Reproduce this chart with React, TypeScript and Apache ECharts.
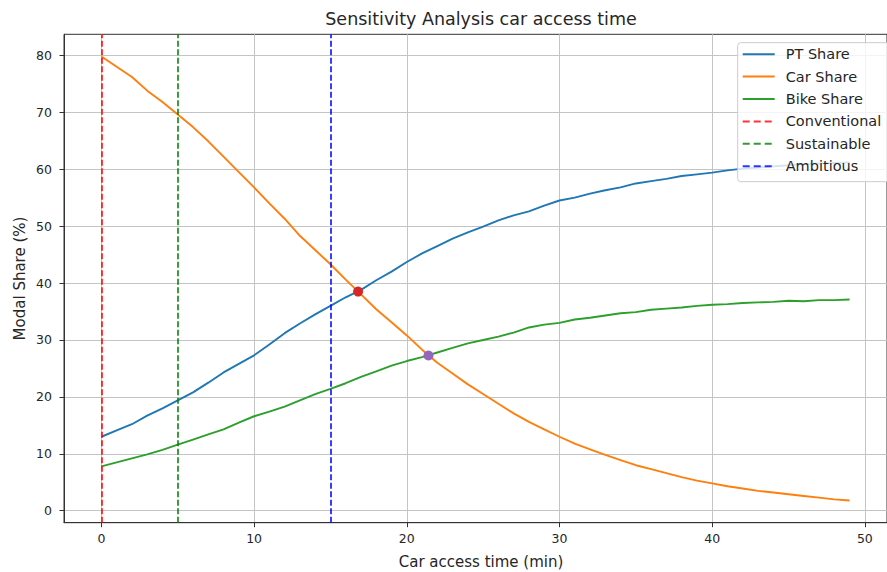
import React, { useEffect, useRef } from "react";
import * as echarts from "echarts";

// ---- data ----
const accessTime = [
  0, 1, 2, 3, 4, 5, 6, 7, 8, 9, 10, 11, 12, 13, 14, 15, 16, 17, 18, 19, 20, 21, 22, 23, 24,
  25, 26, 27, 28, 29, 30, 31, 32, 33, 34, 35, 36, 37, 38, 39, 40, 41, 42, 43, 44, 45, 46, 47, 48, 49,
];
const ptShare = [
  13.0, 14.1, 15.2, 16.7, 18.0, 19.4, 20.8, 22.5, 24.3, 25.8,
  27.3, 29.2, 31.2, 32.9, 34.5, 36.0, 37.5, 38.8, 40.5, 42.0,
  43.7, 45.2, 46.5, 47.8, 48.9, 49.9, 51.0, 51.9, 52.6, 53.6,
  54.5, 55.0, 55.7, 56.3, 56.8, 57.5, 57.9, 58.3, 58.8, 59.1,
  59.4, 59.8, 60.1, 60.3, 60.5, 60.7, 60.9, 61.0, 61.1, 61.2,
];
const carShare = [
  79.8, 78.0, 76.2, 73.8, 71.8, 69.6, 67.4, 64.9, 62.2, 59.5,
  56.8, 54.0, 51.3, 48.3, 45.8, 43.3, 40.6, 38.0, 35.4, 33.1,
  30.8, 28.3, 26.0, 24.1, 22.2, 20.5, 18.8, 17.1, 15.6, 14.3,
  13.0, 11.8, 10.8, 9.8, 8.9, 8.0, 7.3, 6.6, 5.9, 5.3,
  4.8, 4.3, 3.9, 3.5, 3.2, 2.9, 2.6, 2.3, 2.0, 1.8,
];
const bikeShare = [
  7.8, 8.5, 9.2, 9.9, 10.7, 11.6, 12.5, 13.4, 14.3, 15.5,
  16.6, 17.4, 18.3, 19.4, 20.5, 21.4, 22.4, 23.5, 24.5, 25.5,
  26.3, 27.0, 27.8, 28.6, 29.4, 30.0, 30.6, 31.3, 32.2, 32.7,
  33.0, 33.6, 33.9, 34.3, 34.7, 34.9, 35.3, 35.5, 35.7, 36.0,
  36.2, 36.3, 36.5, 36.6, 36.7, 36.9, 36.8, 37.0, 37.0, 37.1,
];
const scenarioNames = ["Conventional", "Sustainable", "Ambitious"];
const scenarioTimes = [0, 5, 15];
const ptCarCross = [16.81, 38.5];
const carBikeCross = [21.42, 27.27];
const xTicks = [0, 10, 20, 30, 40, 50];
const yTicks = [0, 10, 20, 30, 40, 50, 60, 70, 80];

const FONT = "DejaVu Sans";
const scenarioColors = ["rgba(255,0,0,0.8)", "rgba(0,128,0,0.8)", "rgba(0,0,255,0.8)"];

export default function App() {
  const ref = useRef<HTMLDivElement>(null);
  useEffect(() => {
    if (!ref.current) return;
    const chart = echarts.init(ref.current, undefined, { renderer: "svg" });
    const pair = (ys: number[]) => accessTime.map((t, i) => [t, ys[i]]);
    const curve = (name: string, ys: number[], color: string) => ({
      name,
      type: "line",
      data: pair(ys),
      symbol: "none",
      showSymbol: false,
      color,
      lineStyle: { color, width: 1.9 },
      z: 2,
    });
    const scen = scenarioNames.map((name, i) => ({
      name,
      type: "line",
      data: [],
      symbol: "none",
      color: scenarioColors[i],
      lineStyle: { color: scenarioColors[i], width: 1.9, type: [7, 4] },
      z: 3,
      markLine: {
        silent: true,
        symbol: ["none", "none"],
        label: { show: false },
        lineStyle: { color: scenarioColors[i], width: 1.9, type: [6, 2.5] },
        data: [{ xAxis: scenarioTimes[i] }],
        z: 3,
      },
    }));
    const option: any = {
      animation: false,
      backgroundColor: "#ffffff",
      textStyle: { fontFamily: FONT },
      grid: {
        left: 64,
        right: -10.8,
        top: 34.3,
        bottom: 49.3,
        show: true,
        borderColor: "#333333",
        borderWidth: 1,
        backgroundColor: "transparent",
      },
      xAxis: {
        type: "value",
        min: -2.45,
        max: 51.45,
        axisLine: { show: true, onZero: false, lineStyle: { color: "#333333", width: 1 } },
        axisTick: { show: true, length: 4.5, customValues: xTicks, lineStyle: { color: "#333333" } },
        axisLabel: {
          customValues: xTicks,
          color: "#262626",
          fontSize: 12.5,
          fontFamily: FONT,
          margin: 9,
        },
        splitLine: { show: true, lineStyle: { color: "#c4c4c4", width: 1 } },
      },
      yAxis: {
        type: "value",
        min: -2.1,
        max: 83.7,
        splitNumber: 8,
        axisLine: { show: true, onZero: false, lineStyle: { color: "#333333", width: 1 } },
        axisTick: { show: true, length: 4.5, customValues: yTicks, lineStyle: { color: "#333333" } },
        axisLabel: {
          customValues: yTicks,
          color: "#262626",
          fontSize: 12.5,
          fontFamily: FONT,
          margin: 12,
        },
        splitLine: { show: true, lineStyle: { color: "#c4c4c4", width: 1 } },
      },
      legend: {
        orient: "vertical",
        left: 737.7,
        top: 42.7,
        padding: [4, 20, 8, 4],
        itemWidth: 32,
        itemHeight: 12,
        itemGap: 7.4,
        itemStyle: { opacity: 0 },
        backgroundColor: "rgba(255,255,255,0.8)",
        borderColor: "#cccccc",
        borderWidth: 1,
        borderRadius: 3,
        data: ["PT Share", "Car Share", "Bike Share", ...scenarioNames],
        textStyle: {
          fontFamily: FONT,
          fontSize: 14.5,
          color: "#262626",
          lineHeight: 15,
          padding: [0, 0, 0, 6],
        },
        z: 10,
      },
      graphic: [
        {
          type: "text",
          x: 481,
          y: 18.5,
          style: {
            text: "Sensitivity Analysis car access time",
            fontFamily: FONT,
            fontSize: 17.5,
            fill: "#262626",
            textAlign: "center",
            textVerticalAlign: "middle",
          },
        },
        {
          type: "text",
          x: 481,
          y: 561.5,
          style: {
            text: "Car access time (min)",
            fontFamily: FONT,
            fontSize: 15,
            fill: "#262626",
            textAlign: "center",
            textVerticalAlign: "middle",
          },
        },
        {
          type: "text",
          x: 20,
          y: 278.5,
          rotation: Math.PI / 2,
          style: {
            text: "Modal Share (%)",
            fontFamily: FONT,
            fontSize: 15,
            fill: "#262626",
            textAlign: "center",
            textVerticalAlign: "middle",
          },
        },
      ],
      series: [
        curve("PT Share", ptShare, "#1f77b4"),
        curve("Car Share", carShare, "#ff7f0e"),
        curve("Bike Share", bikeShare, "#2ca02c"),
        ...scen,
        {
          name: "PT/Car",
          type: "scatter",
          data: [ptCarCross],
          symbolSize: 10,
          itemStyle: { color: "#d62728", opacity: 1 },
          z: 5,
        },
        {
          name: "Car/Bike",
          type: "scatter",
          data: [carBikeCross],
          symbolSize: 10,
          itemStyle: { color: "#9467bd", opacity: 1 },
          z: 5,
        },
      ],
    };
    chart.setOption(option);
    return () => chart.dispose();
  }, []);
  return (
    <div
      ref={ref}
      style={{ position: "fixed", left: 0, top: 0, width: 887, height: 572, background: "#fff" }}
    />
  );
}
